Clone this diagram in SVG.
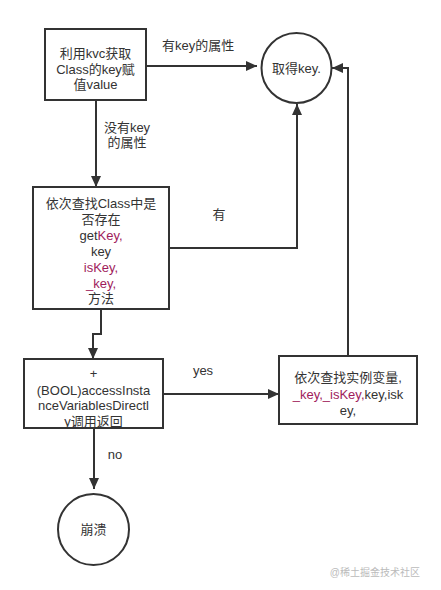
<svg xmlns="http://www.w3.org/2000/svg" width="441" height="590" viewBox="0 0 441 590">
<defs>
<marker id="arr" markerUnits="userSpaceOnUse" markerWidth="11" markerHeight="10" refX="11" refY="5" orient="auto">
<path d="M0,0 L11,5 L0,10 z" fill="#333"/>
</marker>
<style>
.box{fill:#fff;stroke:#333;stroke-width:2}
.t{font-family:"Liberation Sans","Noto Sans CJK SC",sans-serif;font-size:13px;fill:#333;text-anchor:middle}
.tl{font-family:"Liberation Sans","Noto Sans CJK SC",sans-serif;font-size:13px;fill:#333}
.k{fill:#a01c5c}
.c{fill:none;stroke:#333;stroke-width:2;marker-end:url(#arr)}
</style>
</defs>
<rect width="441" height="590" fill="#fff"/>
<g id="connectors">
<path class="c" d="M146,66 H257"/>
<path class="c" d="M96,100 V187"/>
<path class="c" d="M169,248 H297 V104"/>
<path class="c" d="M101,309 V334 H93 V359"/>
<path class="c" d="M163,394 H279"/>
<path class="c" d="M348,356 V68 H332"/>
<path class="c" d="M94,428 V489"/>
<text class="tl" x="162" y="50">有key的属性</text>
<text class="t" x="127" y="132">没有key</text>
<text class="t" x="127" y="147">的属性</text>
<text class="t" x="219" y="219">有</text>
<text class="t" x="203" y="375">yes</text>
<text class="t" x="115" y="459">no</text>
</g>
<g id="box1">
<rect class="box" x="45" y="29" width="101" height="71"/>
<text class="t" x="95.5" y="58">利用kvc获取</text>
<text class="t" x="95.5" y="74">Class的key赋</text>
<text class="t" x="95.5" y="89">值value</text>
</g>
<g id="circle1">
<circle class="box" cx="296.5" cy="68" r="35"/>
<text class="t" x="296.5" y="73">取得key.</text>
</g>
<g id="box2">
<rect class="box" x="33" y="187" width="136" height="122"/>
<text class="t" x="101" y="208">依次查找Class中是</text>
<text class="t" x="101" y="224">否存在</text>
<text class="t" x="101" y="240">get<tspan class="k">Key,</tspan></text>
<text class="t" x="101" y="256">key</text>
<text class="t k" x="101" y="272">isKey,</text>
<text class="t k" x="101" y="288">_key,</text>
<text class="t" x="101" y="303">方法</text>
</g>
<g id="box3">
<rect class="box" x="24" y="359" width="139" height="69"/>
<text class="t" x="93.5" y="378">+</text>
<text class="t" x="93.5" y="395">(BOOL)accessInsta</text>
<text class="t" x="93.5" y="410">nceVariablesDirectl</text>
<text class="t" x="93.5" y="426">y调用返回</text>
</g>
<g id="box4">
<rect class="box" x="279" y="356" width="138" height="68"/>
<text class="t" x="348" y="382">依次查找实例变量,</text>
<text class="t" x="348" y="399"><tspan class="k">_key,_isKey,</tspan>key,isk</text>
<text class="t" x="348" y="415">ey,</text>
</g>
<g id="circle2">
<circle class="box" cx="93.5" cy="529.5" r="35.5"/>
<text class="t" x="93.5" y="534">崩溃</text>
</g>
<text x="420" y="576" style="font-family:'Liberation Sans','Noto Sans CJK SC',sans-serif;font-size:10px;fill:#bbb;text-anchor:end">@稀土掘金技术社区</text>
</svg>
